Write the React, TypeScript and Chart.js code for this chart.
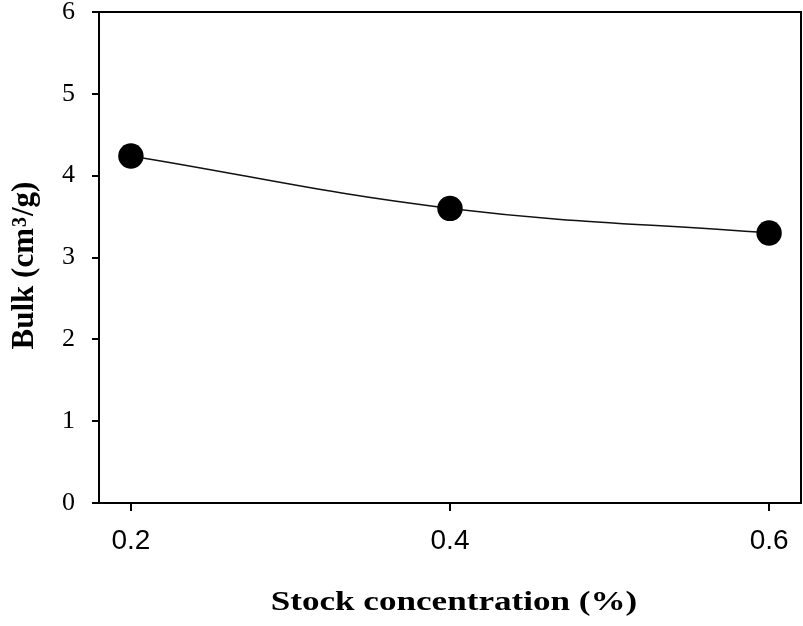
import { useEffect, useRef } from "react";
import { Chart, registerables } from "chart.js";

Chart.register(...registerables);

const concentrations = [0.2, 0.4, 0.6];
const bulkValues = [4.24, 3.6, 3.3];
const xTickValues = [0.2, 0.4, 0.6];
const yTickValues = [0, 1, 2, 3, 4, 5, 6];
const xTitle = "Stock concentration (%)";
const yTitleMain = "Bulk (cm";
const yTitleSup = "3";
const yTitleEnd = "/g)";

export default function App() {
  const ref = useRef<HTMLCanvasElement>(null);

  useEffect(() => {
    document.body.style.margin = "0";
    const canvas = ref.current;
    if (!canvas) return;

    const frame = {
      id: "frame",
      beforeDatasetsDraw(chart: any) {
        const { ctx, chartArea } = chart;
        const { left, top, right, bottom } = chartArea;
        ctx.save();
        ctx.strokeStyle = "#000";
        ctx.lineWidth = 2;
        ctx.strokeRect(left, top, right - left, bottom - top);
        ctx.restore();
      },
    };

    const titles = {
      id: "titles",
      afterDraw(chart: any) {
        const { ctx, chartArea } = chart;
        const cx = (chartArea.left + chartArea.right) / 2;
        const cy = (chartArea.top + chartArea.bottom) / 2;
        ctx.save();
        ctx.fillStyle = "#000";
        ctx.textBaseline = "alphabetic";
        // x title (wide bold serif)
        ctx.font = "bold 27px 'Liberation Serif'";
        ctx.textAlign = "center";
        ctx.save();
        ctx.translate(cx + 4, 610);
        ctx.scale(1.3, 1);
        ctx.fillText(xTitle, 0, 0);
        ctx.restore();

        // y title with superscript
        const mainFont = "bold 31px 'Liberation Serif'";
        const supFont = "bold 20px 'Liberation Serif'";
        ctx.textAlign = "left";
        ctx.font = mainFont;
        const w1 = ctx.measureText(yTitleMain).width;
        const w3 = ctx.measureText(yTitleEnd).width;
        ctx.font = supFont;
        const w2 = ctx.measureText(yTitleSup).width;
        const total = w1 + w2 + w3 + 2;
        ctx.translate(33, cy + 8);
        ctx.rotate(-Math.PI / 2);
        let x = -total / 2;
        ctx.font = mainFont;
        ctx.fillText(yTitleMain, x, 0);
        x += w1 + 1;
        ctx.font = supFont;
        ctx.fillText(yTitleSup, x, -7);
        x += w2 + 1;
        ctx.font = mainFont;
        ctx.fillText(yTitleEnd, x, 0);
        ctx.restore();
      },
    };

    const chart = new Chart(canvas, {
      type: "line",
      data: {
        datasets: [
          {
            data: concentrations.map((x, i) => ({ x, y: bulkValues[i] })),
            borderColor: "#111",
            borderWidth: 1.5,
            backgroundColor: "#000",
            pointBackgroundColor: "#000",
            pointBorderColor: "#000",
            pointRadius: 12.7,
            pointBorderWidth: 0,
            tension: 0.4,
            fill: false,
            clip: false,
          },
        ],
      },
      options: {
        responsive: false,
        animation: false,
        events: [],
        layout: { autoPadding: false, padding: { top: 12, right: 2, left: 0, bottom: 0 } },
        plugins: {
          legend: { display: false },
          tooltip: { enabled: false },
        },
        scales: {
          x: {
            type: "linear",
            min: 0.18,
            max: 0.62,
            afterBuildTicks: (s: any) => {
              s.ticks = xTickValues.map((v) => ({ value: v }));
            },
            afterFit: (s: any) => {
              s.height = 123;
              s.paddingLeft = 0;
              s.paddingRight = 0;
            },
            ticks: {
              color: "#000",
              font: { family: "Liberation Sans", size: 28 },
              padding: 13,
              maxRotation: 0,
              callback: (v: any) => Number(v).toFixed(1),
            },
            grid: {
              drawOnChartArea: false,
              tickLength: 8,
              color: "#000",
              lineWidth: 2,
            },
            border: { display: false },
            title: { display: false },
          },
          y: {
            type: "linear",
            min: 0,
            max: 6,
            afterBuildTicks: (s: any) => {
              s.ticks = yTickValues.map((v) => ({ value: v }));
            },
            afterFit: (s: any) => {
              s.width = 99;
              s.paddingTop = 0;
              s.paddingBottom = 0;
            },
            ticks: {
              color: "#000",
              font: { family: "Liberation Serif", size: 26 },
              padding: 17,
            },
            grid: {
              drawOnChartArea: false,
              tickLength: 7,
              color: "#000",
              lineWidth: 2,
            },
            border: { display: false },
            title: { display: false },
          },
        },
      },
      plugins: [frame, titles],
    } as any);

    return () => chart.destroy();
  }, []);

  return (
    <div style={{ width: 803, height: 626, position: "relative" }}>
      <canvas ref={ref} width={803} height={626} />
    </div>
  );
}
